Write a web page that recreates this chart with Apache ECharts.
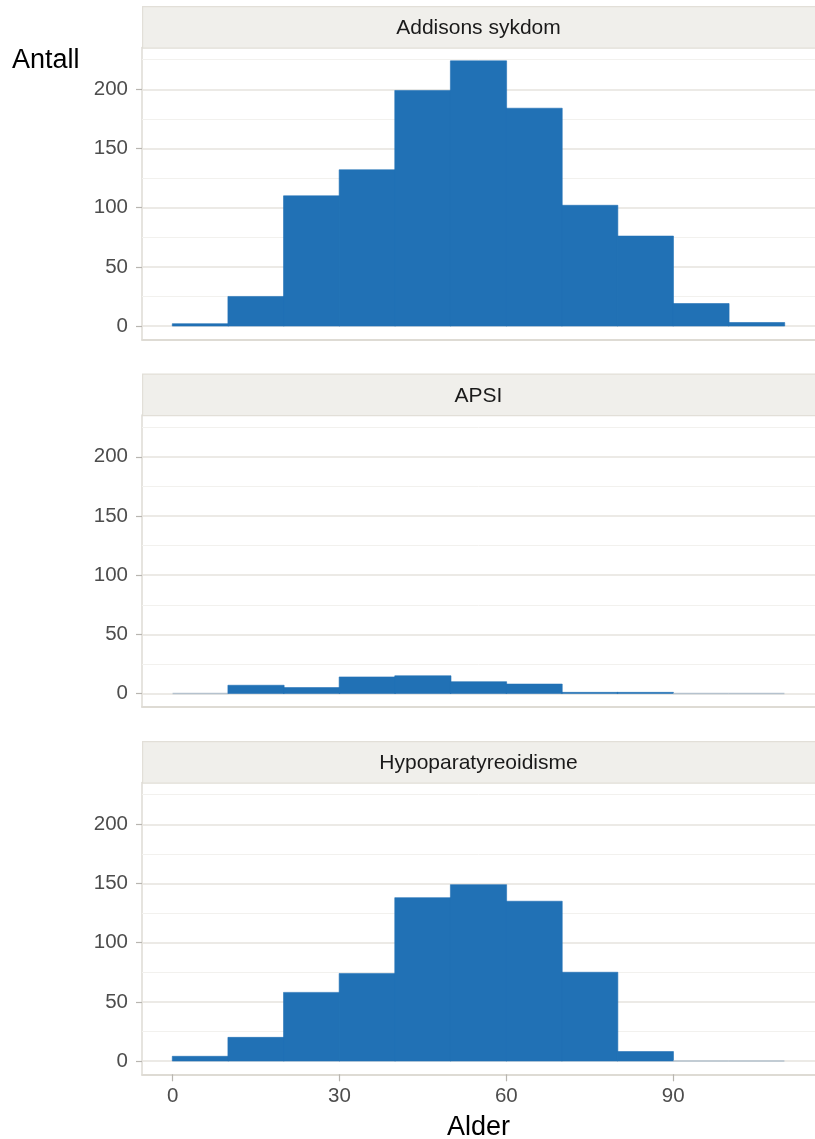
<!DOCTYPE html>
<html>
<head>
<meta charset="utf-8">
<script src="https://cdn.jsdelivr.net/npm/echarts@6/dist/echarts.min.js"></script>
<style>
html,body{margin:0;padding:0;background:#fff;}
#chart{width:815px;height:1139px;}
</style>
</head>
<body>
<div id="chart"></div>
<script>
// ---- data ----
var panelNames = ['Addisons sykdom', 'APSI', 'Hypoparatyreoidisme'];
var binStarts = [0, 10, 20, 30, 40, 50, 60, 70, 80, 90, 100];
var binWidth = 10;
var addisonCounts = [2, 25, 110, 132, 199, 224, 184, 102, 76, 19, 3];
var apsiCounts = [0, 7, 5, 14, 15, 10, 8, 1, 1, 0, 0];
var hypoCounts = [4, 20, 58, 74, 138, 149, 135, 75, 8, 0, 0];
var panelCounts = [addisonCounts, apsiCounts, hypoCounts];
var yMajorTicks = [0, 50, 100, 150, 200];
var yMinorTicks = [25, 75, 125, 175, 225];
var xTicks = [0, 30, 60, 90];
var xLabel = 'Alder';
var yLabel = 'Antall';

// ---- layout ----
var gridLeft = 142, gridWidth = 673, gridHeight = 291.7;
var gridTops = [47.6, 415.1, 782.6];
var stripH = 41.6;
var barColor = '#2171b5';
var axisColor = '#dedbd4';
var font = 'Liberation Sans, Arial, Helvetica, sans-serif';

var chart = echarts.init(document.getElementById('chart'), null, {renderer: 'canvas'});

var grids = [], xAxes = [], yAxes = [], series = [], graphics = [];

panelNames.forEach(function (name, i) {
  var isLast = i === panelNames.length - 1;
  grids.push({left: gridLeft, top: gridTops[i], width: gridWidth, height: gridHeight,
    containLabel: false, outerBoundsMode: 'none'});
  xAxes.push({
    type: 'value', gridIndex: i, min: -5.5, max: 115.5,
    axisLine: {show: true, onZero: false, lineStyle: {color: axisColor, width: 2}},
    axisTick: {show: isLast, customValues: xTicks, length: 7, lineStyle: {color: '#b8b5b0', width: 1.2}},
    axisLabel: {show: isLast, customValues: xTicks, fontSize: 20.5, color: '#4d4d4d', fontFamily: font, margin: 12},
    splitLine: {show: false},
    name: isLast ? xLabel : '', nameLocation: 'middle', nameGap: 40,
    nameTextStyle: {fontSize: 27, color: '#000', fontFamily: font}
  });
  yAxes.push({
    type: 'value', gridIndex: i, min: -11.2, max: 235.2,
    axisLine: {show: true, onZero: false, lineStyle: {color: axisColor, width: 1.5}},
    axisTick: {show: true, customValues: yMajorTicks, length: 6, lineStyle: {color: '#b8b5b0', width: 1.2}},
    axisLabel: {show: true, customValues: yMajorTicks, fontSize: 20.5, color: '#4d4d4d', fontFamily: font, margin: 14},
    splitLine: {show: false}
  });

  var data = binStarts.map(function (s, k) { return [s, s + binWidth, panelCounts[i][k]]; });
  var gridLines = yMajorTicks.map(function (v) {
    return {yAxis: v, lineStyle: {color: '#e6e3de', width: 1.5, type: 'solid'}};
  }).concat(yMinorTicks.map(function (v) {
    return {yAxis: v, lineStyle: {color: '#f2f1ee', width: 1, type: 'solid'}};
  }));

  series.push({
    type: 'custom', xAxisIndex: i, yAxisIndex: i, data: data, silent: true,
    renderItem: function (params, api) {
      var x0 = api.value(0), x1 = api.value(1), c = api.value(2);
      var pTop = api.coord([x0, c]);
      var pBot = api.coord([x1, 0]);
      var h = pBot[1] - pTop[1];
      if (c === 0) {
        return {type: 'rect', shape: {x: pTop[0], y: pBot[1] - 0.75, width: pBot[0] - pTop[0], height: 1.5},
          style: {fill: '#a8b8c8', opacity: 0.8}};
      }
      return {type: 'rect', shape: {x: pTop[0] - 0.3, y: pTop[1], width: pBot[0] - pTop[0] + 0.6, height: h},
        style: {fill: barColor, stroke: barColor, lineWidth: 0.6}};
    },
    markLine: {silent: true, symbol: 'none', label: {show: false}, z: 1, data: gridLines, animation: false},
    z: 3
  });

  graphics.push({
    type: 'rect', left: gridLeft, top: gridTops[i] - stripH, silent: true,
    shape: {width: gridWidth + 2, height: stripH},
    style: {fill: '#f0efeb', stroke: '#e2dfd8', lineWidth: 1.2}
  });
  graphics.push({
    type: 'text', x: gridLeft + gridWidth / 2, y: gridTops[i] - stripH / 2 + 1.5, silent: true,
    style: {text: name, fill: '#1a1a1a', fontSize: 21, fontFamily: font, align: 'center', verticalAlign: 'middle'}
  });
});

graphics.push({
  type: 'text', x: 12, y: 61, silent: true,
  style: {text: yLabel, fill: '#000', fontSize: 27, fontFamily: font, align: 'left', verticalAlign: 'middle'}
});

chart.setOption({
  backgroundColor: '#ffffff',
  animation: false,
  grid: grids,
  xAxis: xAxes,
  yAxis: yAxes,
  series: series,
  graphic: graphics
});
</script>
</body>
</html>
